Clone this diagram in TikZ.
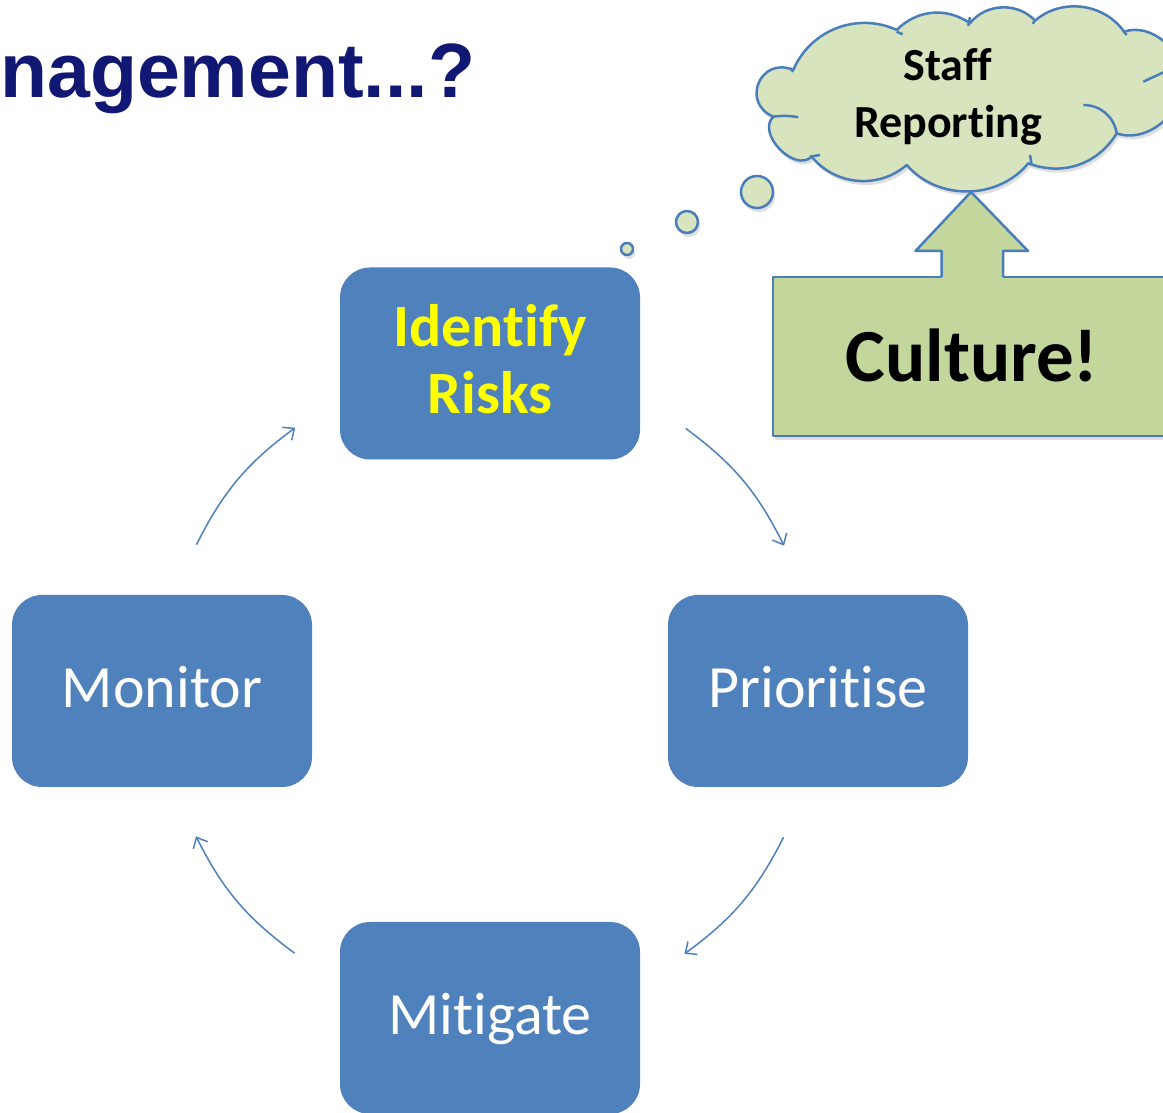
\documentclass[tikz,border=0pt]{standalone}
\usepackage{fontspec}
\setmainfont{Carlito}[Ligatures=NoCommon]
\newfontfamily\titlefont{Liberation Sans}
\usetikzlibrary{arrows.meta,shadows,calc}

\definecolor{boxblue}{RGB}{79,129,189}
\definecolor{edgeblue}{RGB}{74,126,187}
\definecolor{riskyellow}{RGB}{255,255,0}
\definecolor{cloudgreen}{RGB}{215,228,189}
\definecolor{culturegreen}{RGB}{195,214,155}
\definecolor{titlenavy}{RGB}{16,24,115}

\tikzset{
	riskbox/.style={fill=boxblue, rounded corners=30pt, minimum width=300pt, minimum height=192pt, inner sep=0pt, text=white, font=\fontsize{60}{67}\selectfont, align=center, text height=40pt, text depth=6pt},
	cycarrow/.style={draw=boxblue, line width=1.5pt, -{Straight Barb[length=9pt,width=16pt]}},
	cloudline/.style={draw=edgeblue, line width=2.5pt, line join=round},
	softshadow/.style={drop shadow={shadow xshift=2pt, shadow yshift=-4pt, opacity=0.25}},
	bubble/.style={circle, cloudline, fill=cloudgreen, inner sep=0pt, outer sep=0pt, softshadow},
}

\begin{document}
\begin{tikzpicture}[x=1pt,y=1pt]
		\useasboundingbox[fill=white] (0,0) rectangle (1163,1113);

		\node (title)[anchor=base west, inner sep=0pt, text=titlenavy, font=\titlefont\bfseries\fontsize{77}{80}\selectfont] at (0,1015) {nagement...?};

		\draw[cloudline, fill=cloudgreen, softshadow] (793.3,1043) to[bend left=46] (896.7,1083) to[bend left=40] (970,1089.7) to[bend left=50] (1035,1092.3) to[bend left=48] (1124,1081.3) to[bend left=60] (1180,1033) to[bend left=60] (1116.7,979.7) to[bend left=40] (1028.3,949.7) to[bend left=50] (906.7,948) to[bend left=46] (811.7,956.3) to[bend left=90,looseness=1.1] (773.3,996.3) to[bend left=90,looseness=1.8] (793.3,1043) -- cycle;
		\draw[cloudline] (773.3,996.3) to[bend left=8] (798.3,995.8);
		\draw[cloudline] (810,956.3) -- (820,958);
		\draw[cloudline] (790,1045) -- (793.3,1041.3);
		\draw[cloudline] (896.7,1081.3) -- (902.7,1078.7);
		\draw[cloudline] (970,1096) -- (968.3,1087);
		\draw[cloudline] (1035,1094) -- (1033,1089);
		\draw[cloudline] (1124,1081.3) -- (1126.7,1078);
		\draw[cloudline] (1030,958) -- (1031.7,948);
		\draw[cloudline] (1083.3,1008) to[bend left=40] (1116.7,979.7);
		\draw[cloudline] (1143.3,1031.3) -- (1175,1046);
		\node (staff)[anchor=base, align=center, inner sep=0pt, font=\bfseries\fontsize{46}{57}\selectfont] at (948,975) {Staff\\Reporting};

		\node (bubbleA)[bubble, minimum size=32pt] at (757,921) {};
		\node (bubbleB)[bubble, minimum size=22pt] at (687,891) {};
		\node (bubbleC)[bubble, minimum size=12pt] at (627,864) {};

		\node (culture)[cloudline, fill=culturegreen, softshadow, minimum width=398pt, minimum height=159pt, inner sep=0pt, outer sep=0pt, font=\bfseries\fontsize{75}{80}\selectfont, text height=56pt, text depth=6pt] at (972,756.5) {Culture!};
		\fill[culturegreen] ([xshift=-30.5pt,yshift=-3pt]culture.north) -- ++(0,29) -- ++(-26,0) -- (971,921) -- (1028,862) -- ++(-25,0) -- ++(0,-29) -- cycle;
		\draw[cloudline] ([xshift=-30.5pt]culture.north) -- ++(0,26) -- ++(-26,0) -- (971,921) -- (1028,862) -- ++(-25,0) -- ++(0,-26);

		\node (identify)[riskbox, text=riskyellow, font=\bfseries\fontsize{60}{67}\selectfont, text height=107pt] at (490,749.5) {Identify\\Risks};
		\node (prioritise)[riskbox] at (818,422) {Prioritise};
		\node (mitigate)[riskbox] at (490,95) {Mitigate};
		\node (monitor)[riskbox] at (162,422) {Monitor};

		\coordinate (cyc) at (490,422);
		\foreach \src/\dst/\rot [evaluate=\rot as \rend using 63+\rot] in {identify/prioritise/-36.7, prioritise/mitigate/-26.5, mitigate/monitor/-36.7, monitor/identify/-26.5}
			\draw[cycarrow] ($(cyc)!1!\rot:(\src)$) to[bend left=13.5] ($(cyc)!1!\rend:(\dst)$);
	\end{tikzpicture}
\end{document}
